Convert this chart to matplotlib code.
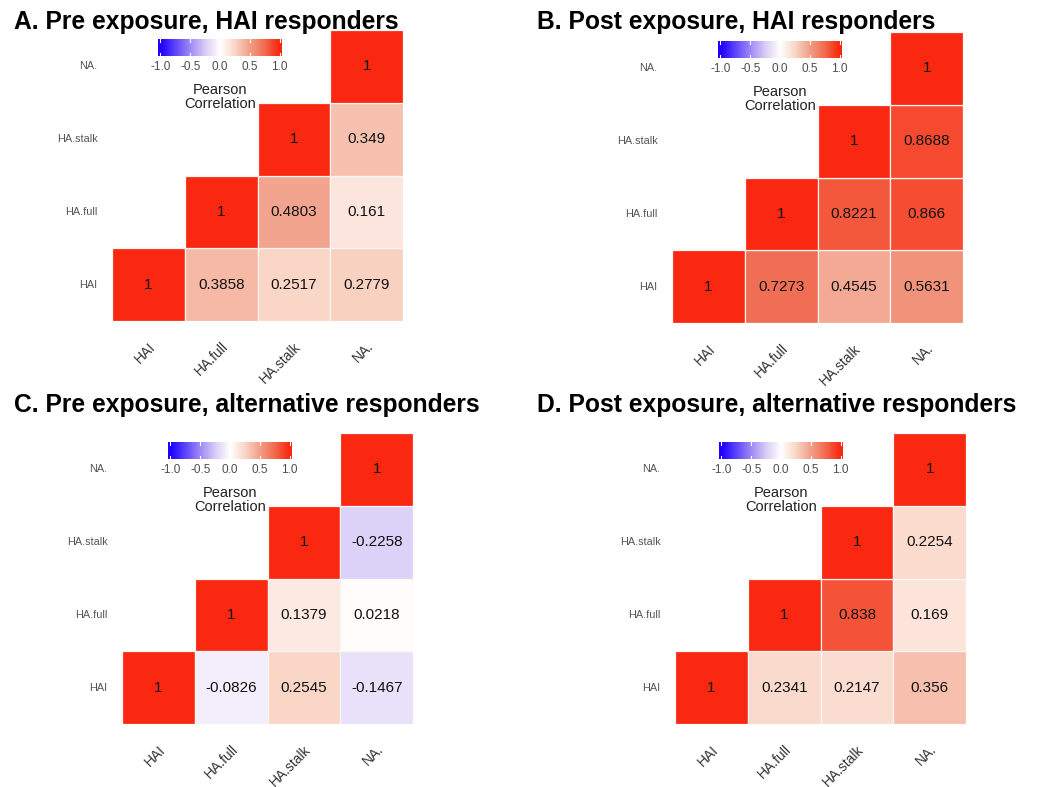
import numpy as np
import matplotlib
matplotlib.use("Agg")
import matplotlib.pyplot as plt
from matplotlib.colors import LinearSegmentedColormap
from matplotlib.patches import Rectangle

plt.rcParams["font.family"] = ["Liberation Sans", "DejaVu Sans"]

# ---------------------------------------------------------------------------
# Data: upper-triangle correlations, rows/cols in order HAI, HA.full, HA.stalk, NA.
# ---------------------------------------------------------------------------
variables = ["HAI", "HA.full", "HA.stalk", "NA."]

titles = [
    "A. Pre exposure, HAI responders",
    "B. Post exposure, HAI responders",
    "C. Pre exposure, alternative responders",
    "D. Post exposure, alternative responders",
]

corr_pre_hai = [
    [1, 0.3858, 0.2517, 0.2779],
    [None, 1, 0.4803, 0.161],
    [None, None, 1, 0.349],
    [None, None, None, 1],
]
corr_post_hai = [
    [1, 0.7273, 0.4545, 0.5631],
    [None, 1, 0.8221, 0.866],
    [None, None, 1, 0.8688],
    [None, None, None, 1],
]
corr_pre_alt = [
    [1, -0.0826, 0.2545, -0.1467],
    [None, 1, 0.1379, 0.0218],
    [None, None, 1, -0.2258],
    [None, None, None, 1],
]
corr_post_alt = [
    [1, 0.2341, 0.2147, 0.356],
    [None, 1, 0.838, 0.169],
    [None, None, 1, 0.2254],
    [None, None, None, 1],
]
matrices = [corr_pre_hai, corr_post_hai, corr_pre_alt, corr_post_alt]

cbar_ticks = [-1.0, -0.5, 0.0, 0.5, 1.0]

# ---------------------------------------------------------------------------
# Colour map (blue - white - red, roughly Lab-blended like ggplot)
# ---------------------------------------------------------------------------
cmap = LinearSegmentedColormap.from_list("bwr_gg", [
    (0.0, "#1E00FF"),
    (0.25, "#9E8AF5"),
    (0.375, "#D8CCF5"),
    (0.5, "#FFFFFF"),
    (0.625, "#FAD7C8"),
    (0.75, "#F2A08A"),
    (0.875, "#F06C50"),
    (1.0, "#FA2810"),
])

# ---------------------------------------------------------------------------
# Layout in pixels (figure is 1050 x 787)
# ---------------------------------------------------------------------------
W, H = 1050, 787
fig = plt.figure(figsize=(W / 100, H / 100), dpi=100)
fig.patch.set_facecolor("white")


def px_axes(left, top, width, height):
    return fig.add_axes([left / W, 1 - (top + height) / H, width / W, height / H])


grid_pos = [(112, 30), (672, 32), (122, 433), (675, 433)]
cbar_pos = [(158, 39), (718, 41), (168, 442), (719, 442)]
title_pos = [(14, 22), (537, 22), (14, 405), (537, 405)]
cell = 72.8
n = len(variables)

for k in range(4):
    mat = matrices[k]
    gx, gy = grid_pos[k]
    ax = px_axes(gx, gy, cell * n, cell * n)
    ax.set_xlim(0, n)
    ax.set_ylim(0, n)
    ax.axis("off")

    for i in range(n):
        for j in range(n):
            v = mat[i][j]
            if v is None:
                continue
            ax.add_patch(Rectangle((j, i), 1, 1, facecolor=cmap((v + 1) / 2),
                                   edgecolor="#f6f6f6", linewidth=0.9))
            ax.text(j + 0.5, i + 0.5, f"{v:g}", ha="center", va="center",
                    fontsize=11, color="#111111")
        # row labels
        ax.text(-0.2, i + 0.5, variables[i], ha="right", va="center",
                fontsize=7.8, color="#555555", clip_on=False)
        # column labels
        ax.text(i + 0.5, -0.25, variables[i], ha="right", va="top", rotation=45,
                rotation_mode="anchor", fontsize=10, color="#333333", clip_on=False)

    # colour bar
    cx, cy = cbar_pos[k]
    cax = px_axes(cx, cy, 124, 17)
    grad = np.linspace(-1.04, 1.04, 256).reshape(1, -1)
    cax.imshow(grad, aspect="auto", cmap=cmap, vmin=-1, vmax=1,
               extent=[-1.04, 1.04, 0, 1])
    for tv in cbar_ticks:
        cax.plot([tv, tv], [0, 0.18], color="white", lw=0.8)
        cax.plot([tv, tv], [0.82, 1], color="white", lw=0.8)
        cax.text(tv, -0.3, f"{tv:.1f}", ha="center", va="top", fontsize=8.5,
                 color="#4d4d4d", clip_on=False)
    cax.set_xlim(-1.04, 1.04)
    cax.set_ylim(0, 1)
    cax.axis("off")
    cax.text(0, -1.6, "Pearson\nCorrelation", ha="center", va="top", fontsize=10.5,
             color="#222222", linespacing=1.0, clip_on=False)

    tx, ty = title_pos[k]
    fig.text(tx / W, 1 - ty / H, titles[k], ha="left", va="center",
             fontsize=17.7, fontweight="bold", color="black")

fig.savefig("out.png", dpi=100, facecolor="white")
